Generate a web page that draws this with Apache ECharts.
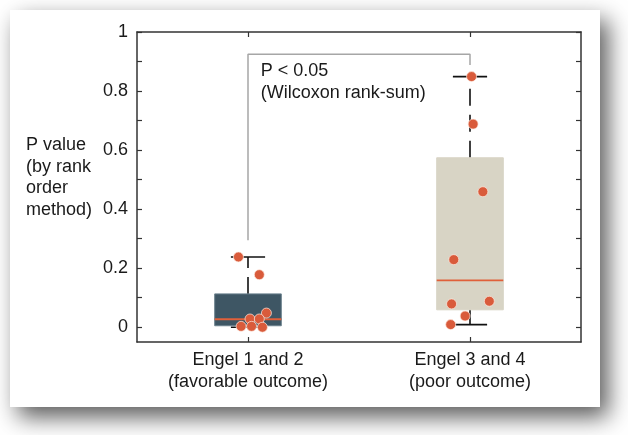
<!DOCTYPE html>
<html>
<head>
<meta charset="utf-8">
<script src="https://cdn.jsdelivr.net/npm/echarts@6/dist/echarts.min.js"></script>
<style>
html,body{margin:0;padding:0;background:#fff;}
#chart{width:628px;height:435px;}
</style>
</head>
<body>
<div id="chart"></div>
<script>
const categories = ['Engel 1 and 2\n(favorable outcome)', 'Engel 3 and 4\n(poor outcome)'];
// [min, q1, median, q3, max]
const boxGroup1 = [0.0, 0.005, 0.027, 0.113, 0.238];
const boxGroup2 = [0.009, 0.059, 0.159, 0.574, 0.849];
const pointsGroup1 = [0.238, 0.178, 0.048, 0.028, 0.028, 0.003, 0.003, 0.0];
const jitterGroup1 = [-0.043, 0.051, 0.083, 0.009, 0.051, -0.031, 0.016, 0.065];
const pointsGroup2 = [0.849, 0.688, 0.459, 0.229, 0.088, 0.079, 0.038, 0.009];
const jitterGroup2 = [0.007, 0.014, 0.058, -0.073, 0.087, -0.083, -0.022, -0.087];
const yTickValues = [0, 0.1, 0.2, 0.3, 0.4, 0.5, 0.6, 0.7, 0.8, 0.9, 1];
const yLabelValues = [0, 0.2, 0.4, 0.6, 0.8, 1];
const bracket = [[1, 0.295], [1, 0.925], [2, 0.925], [2, 0.888]];
const annotation = 'P < 0.05\n(Wilcoxon rank-sum)';
const annotationAnchor = [1.057, 0.83];
const yAxisTitle = 'P value\n(by rank\norder\nmethod)';

const boxFills = ['#3e5664', '#d8d4c5'];
const boxBorders = ['#6b818d', '#d8d4c5'];
const FONT = 'Liberation Sans, Arial, sans-serif';
const TXT = '#1a1a1a';

const chart = echarts.init(document.getElementById('chart'));

function scatterData(vals, jit, center) {
  return vals.map((v, i) => [center + jit[i], v]);
}

const axisLineStyle = { color: '#333', width: 1.5 };
const tickStyle = { color: '#333', width: 1.2 };

const option = {
  backgroundColor: '#fff',
  animation: false,
  graphic: [
    {
      type: 'rect', z: -100, silent: true,
      shape: { x: 10, y: 10, width: 590, height: 397 },
      style: { fill: '#fff', shadowBlur: 22, shadowOffsetX: 8, shadowOffsetY: 10, shadowColor: 'rgba(0,0,0,0.65)' }
    },
    {
      type: 'text', left: 26, top: 134, z: 10,
      style: { text: yAxisTitle, font: '18px ' + FONT, fill: TXT, lineHeight: 21.7 }
    }
  ],
  grid: { left: 137, right: 47, top: 32, bottom: 93, show: false },
  xAxis: [
    {
      type: 'category', data: categories, position: 'bottom', gridIndex: 0,
      axisLine: { show: true, onZero: false, lineStyle: axisLineStyle },
      axisTick: { show: true, inside: true, alignWithLabel: true, length: 5, lineStyle: tickStyle },
      axisLabel: { fontSize: 18, fontFamily: FONT, color: TXT, lineHeight: 22, margin: 7 }
    },
    {
      type: 'category', data: categories, position: 'top', gridIndex: 0,
      axisLine: { show: true, onZero: false, lineStyle: axisLineStyle },
      axisTick: { show: true, inside: true, alignWithLabel: true, length: 5, lineStyle: tickStyle },
      axisLabel: { show: false }
    },
    {
      type: 'value', min: 0.5, max: 2.5, show: false, gridIndex: 0
    }
  ],
  yAxis: [
    {
      type: 'value', min: -0.05, max: 1, position: 'left',
      axisLine: { show: true, onZero: false, lineStyle: axisLineStyle },
      axisTick: { show: true, inside: true, length: 5, customValues: yTickValues, lineStyle: tickStyle },
      axisLabel: { customValues: yLabelValues, fontSize: 18, fontFamily: FONT, color: TXT, margin: 9 },
      splitLine: { show: false }
    },
    {
      type: 'value', min: -0.05, max: 1, position: 'right',
      axisLine: { show: true, onZero: false, lineStyle: axisLineStyle },
      axisTick: { show: true, inside: true, length: 5, customValues: yTickValues, lineStyle: tickStyle },
      axisLabel: { show: false },
      splitLine: { show: false }
    }
  ],
  series: [
    {
      type: 'line', xAxisIndex: 2, yAxisIndex: 0, z: 1,
      data: bracket, symbol: 'none', silent: true,
      lineStyle: { color: '#a6a6a6', width: 1.5 }
    },
    {
      type: 'custom', xAxisIndex: 0, yAxisIndex: 0, z: 2,
      data: [[0].concat(boxGroup1), [1].concat(boxGroup2)],
      renderItem: function (params, api) {
        const idx = api.value(0);
        const band = api.size([1, 0])[0];
        const half = band * 0.15;
        const capHalf = band * 0.077;
        const pMin = api.coord([idx, api.value(1)]);
        const pQ1 = api.coord([idx, api.value(2)]);
        const pMed = api.coord([idx, api.value(3)]);
        const pQ3 = api.coord([idx, api.value(4)]);
        const pMax = api.coord([idx, api.value(5)]);
        const cx = pMed[0];
        const wStyle = { stroke: '#111', lineWidth: 1.6, lineDash: [17, 9] };
        const cStyle = { stroke: '#111', lineWidth: 1.6 };
        return {
          type: 'group',
          children: [
            { type: 'line', shape: { x1: cx, y1: pQ3[1], x2: cx, y2: pMax[1] }, style: wStyle },
            { type: 'line', shape: { x1: cx, y1: pQ1[1], x2: cx, y2: pMin[1] }, style: wStyle },
            { type: 'line', shape: { x1: cx - capHalf, y1: pMax[1], x2: cx + capHalf, y2: pMax[1] }, style: cStyle },
            { type: 'line', shape: { x1: cx - capHalf, y1: pMin[1], x2: cx + capHalf, y2: pMin[1] }, style: cStyle },
            { type: 'rect', shape: { x: cx - half, y: pQ3[1], width: half * 2, height: pQ1[1] - pQ3[1] },
              style: { fill: boxFills[idx], stroke: boxBorders[idx], lineWidth: 1 } },
            { type: 'line', shape: { x1: cx - half, y1: pMed[1], x2: cx + half, y2: pMed[1] },
              style: { stroke: '#e0603a', lineWidth: 1.8 } }
          ]
        };
      }
    },
    {
      type: 'scatter', xAxisIndex: 2, yAxisIndex: 0, z: 3,
      data: scatterData(pointsGroup1, jitterGroup1, 1).concat(scatterData(pointsGroup2, jitterGroup2, 2)),
      symbolSize: 10,
      itemStyle: { color: '#d95b3b', borderColor: 'rgba(255,235,225,0.7)', borderWidth: 1, opacity: 1 }
    },
    {
      type: 'custom', xAxisIndex: 2, yAxisIndex: 0, z: 4, silent: true,
      data: [annotationAnchor],
      renderItem: function (params, api) {
        const p = api.coord([api.value(0), api.value(1)]);
        return {
          type: 'text',
          style: {
            x: p[0], y: p[1], text: annotation, align: 'left', verticalAlign: 'middle',
            font: '18px ' + FONT, fill: TXT, lineHeight: 22
          }
        };
      }
    }
  ]
};
chart.setOption(option);
</script>
</body>
</html>
